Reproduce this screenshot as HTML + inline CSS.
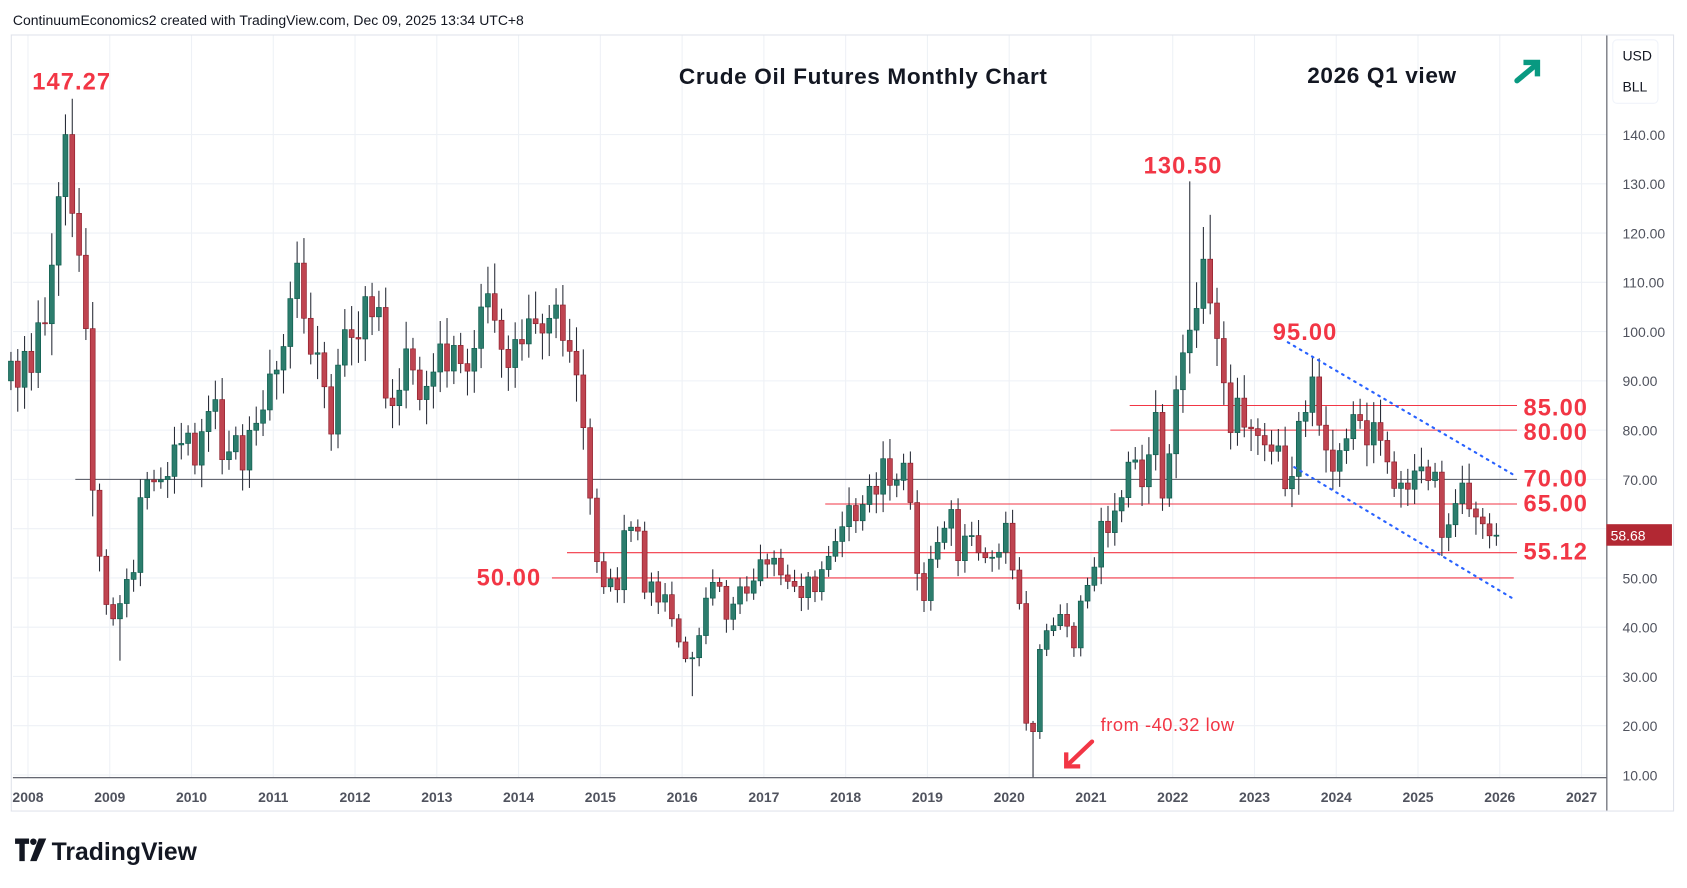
<!DOCTYPE html>
<html><head><meta charset="utf-8"><style>
html,body{margin:0;padding:0;background:#fff;overflow:hidden}
svg{display:block;font-family:"Liberation Sans",sans-serif}
</style></head><body>
<svg id="s" width="1687" height="888" viewBox="0 0 1568 825" preserveAspectRatio="none" xmlns="http://www.w3.org/2000/svg">
<rect x="0" y="0" width="1568" height="825" fill="#fff"/>
<text x="12" y="23" font-size="13" fill="#131722">ContinuumEconomics2 created with TradingView.com, Dec 09, 2025 13:34 UTC+8</text>
<rect x="10.5" y="32.5" width="1545" height="721" fill="none" stroke="#e0e3eb"/>
<g id="grid"></g>
<line x1="1493.5" y1="33" x2="1493.5" y2="753" stroke="#50535e"/>
<line x1="12" y1="722.5" x2="1493" y2="722.5" stroke="#50535e"/>
<g id="levels"></g>
<g id="candles"></g>
<g font-weight="bold" fill="#f23645" font-size="22" letter-spacing="1">
<text x="30" y="83">147.27</text>
<text x="1063" y="161">130.50</text>
<text x="1183" y="316">95.00</text>
<text x="443" y="544">50.00</text>
<text x="1416" y="386">85.00</text>
<text x="1416" y="409">80.00</text>
<text x="1416" y="452">70.00</text>
<text x="1416" y="475">65.00</text>
<text x="1416" y="520">55.12</text>
</g>
<text x="631" y="78" font-size="21" font-weight="bold" fill="#131722" letter-spacing="0.6">Crude Oil Futures Monthly Chart</text>
<text x="1215" y="77" font-size="21" font-weight="bold" fill="#131722" letter-spacing="0.6">2026 Q1 view</text>
<g stroke="#089981" stroke-width="5" stroke-linecap="round" fill="none"><line x1="1410" y1="75" x2="1428" y2="60"/><polyline points="1416,58 1429,58 1429,71" stroke-linecap="butt"/></g>
<text x="1023" y="679" font-size="17" fill="#f23645" letter-spacing="0.5">from -40.32 low</text>
<g stroke="#f23645" stroke-width="4" stroke-linecap="round" fill="none"><line x1="1015" y1="689" x2="993" y2="710"/><polyline points="991,699 991,712 1004,712" stroke-linecap="butt"/></g>
<line x1="1197" y1="318" x2="1410" y2="443" stroke="#2962ff" stroke-width="2" stroke-dasharray="1.5 5" stroke-linecap="round"/>
<line x1="1203" y1="434" x2="1406" y2="556" stroke="#2962ff" stroke-width="2" stroke-dasharray="1.5 5" stroke-linecap="round"/>
<rect x="1499" y="37" width="42" height="59" rx="4" fill="#fff" stroke="#f0f3fa"/>
<text x="1508" y="56" font-size="13" fill="#131722">USD</text>
<text x="1508" y="85" font-size="13" fill="#131722">BLL</text>
<g id="yax" font-size="13" fill="#50535e"></g>
<rect x="1493" y="487" width="61" height="20" fill="#b22833"/>
<text x="1497" y="502" font-size="13" fill="#fff">58.68</text>
<g id="xax" font-size="13" fill="#50535e" font-weight="bold" text-anchor="middle"></g>
<g transform="translate(14,779)"><path d="M0 0h13v5h-4v16h-5V5H0z" fill="#131722"/><circle cx="17" cy="3" r="3" fill="#131722"/><path d="M22 0h7l-9 21h-6z" fill="#131722"/><text x="34" y="20" font-size="23" font-weight="bold" fill="#131722">TradingView</text></g>
</svg>
<script>
var NS="http://www.w3.org/2000/svg";
function Y(p){return 720-(p-10)*4.577;}
function X(t){return 26+(t-2008)*76;}
function el(g,n,a){var e=document.createElementNS(NS,n);for(var k in a)e.setAttribute(k,a[k]);document.getElementById(g).appendChild(e);return e;}
for(var p=10;p<=140;p+=10){el("grid","line",{x1:12,x2:1493,y1:Y(p),y2:Y(p),stroke:"#eef1f6"});var t=el("yax","text",{x:1508,y:Y(p)+5});t.textContent=p.toFixed(2);}
for(var yr=2008;yr<=2027;yr++){el("grid","line",{x1:X(yr),x2:X(yr),y1:33,y2:722,stroke:"#eef1f6"});var t=el("xax","text",{x:X(yr),y:745});t.textContent=yr;}
var L=[[85,1050,1410,"#f23645"],[80,1032,1410,"#f23645"],[70,70,1410,"#50535e"],[65,767,1410,"#f23645"],[55.12,527,1410,"#f23645"],[50,513,1407,"#f23645"]];
L.forEach(function(l){el("levels","line",{x1:l[1],x2:l[2],y1:Y(l[0]),y2:Y(l[0]),stroke:l[3],"stroke-width":1});});
var c=[94,88.7,96,
91.7,101.8,101.6,113.5,127.4,140,124,115.5,100.6,67.8,54.4,44.6,
41.7,44.8,49.7,51.1,66.3,69.9,69.5,69.96,70.6,77,77.3,79.4,
72.9,79.7,83.8,86.2,74,75.6,78.9,71.9,79.97,81.4,84.1,91.4,
92.2,96.97,106.7,113.9,102.7,95.4,95.7,88.8,79.2,93.2,100.4,98.8,
98.5,107.1,103,104.9,86.5,84.96,88.1,96.5,92.2,86.2,88.9,91.8,
97.5,92,97.2,93.5,91.97,96.6,105,107.7,102.3,96.4,92.7,98.4,
97.5,102.6,101.6,99.7,102.7,105.4,98.2,96,91.2,80.5,66.2,53.3,
48.2,49.8,47.6,59.6,60.3,59.5,47.1,49.2,45.1,46.6,41.7,37,
33.6,33.8,38.3,45.9,49.1,48.3,41.6,44.7,48.2,46.9,49.4,53.7,
52.8,54,50.6,49.3,48.3,46,50.2,47.2,51.7,54.4,57.4,60.4,
64.7,61.6,64.9,68.6,67,74.2,68.8,69.8,73.3,65.3,50.9,45.4,
53.8,57.2,60.1,63.9,53.5,58.5,58.6,55.1,54.1,54.2,55.2,61.1,
51.6,44.8,20.5,18.8,35.5,39.3,40.3,42.6,40.2,35.8,45.3,48.5,
52.2,61.5,59.2,63.6,66.3,73.5,73.95,68.5,75,83.6,66.2,75.2,
88.2,95.7,100.3,104.7,114.7,105.8,98.6,89.6,79.5,86.5,80.6,80.3,
78.9,77,75.7,76.8,68.1,70.6,81.8,83.6,90.8,81,75.96,71.65,
75.85,78.26,83.17,81.93,76.99,81.54,77.91,73.55,68.17,69.26,68,71.72,
72.53,69.76,71.48,58.21,60.79,65.11,69.26,64.01,62.37,60.98,58.55,58.68];
var hi={9:147.27,173:130.5,191:95,176:123.7};
var lo={150:-40,100:26,16:33.2,149:19};
for(var i=0;i<c.length;i++){
 var t=2007+9/12+i/12+1/24,o=i?c[i-1]:90,cl=c[i];
 var s=(i*7919%13)/13;var w=Math.max(o,cl)*(0.02+0.04*s);
 var h=(i in hi)?hi[i]:Math.max(o,cl)+w;
 var l=(i in lo)?lo[i]:Math.min(o,cl)-Math.max(o,cl)*(0.02+0.04*((i*104729%11)/11));
 var up=cl>=o;var yl=Math.min(Y(l),722);
 el("candles","line",{x1:X(t),x2:X(t),y1:Y(h),y2:yl,stroke:"#2a2e39","stroke-width":1});
 var y1=Y(Math.max(o,cl)),y2=Y(Math.min(o,cl));
 el("candles","rect",{x:X(t)-2.3,y:y1,width:4.6,height:Math.max(1,y2-y1),fill:up?"#2c7d6d":"#bf4450",stroke:up?"#0b5a4b":"#8e1d2a","stroke-width":0.6});
}
</script>
</body></html>
